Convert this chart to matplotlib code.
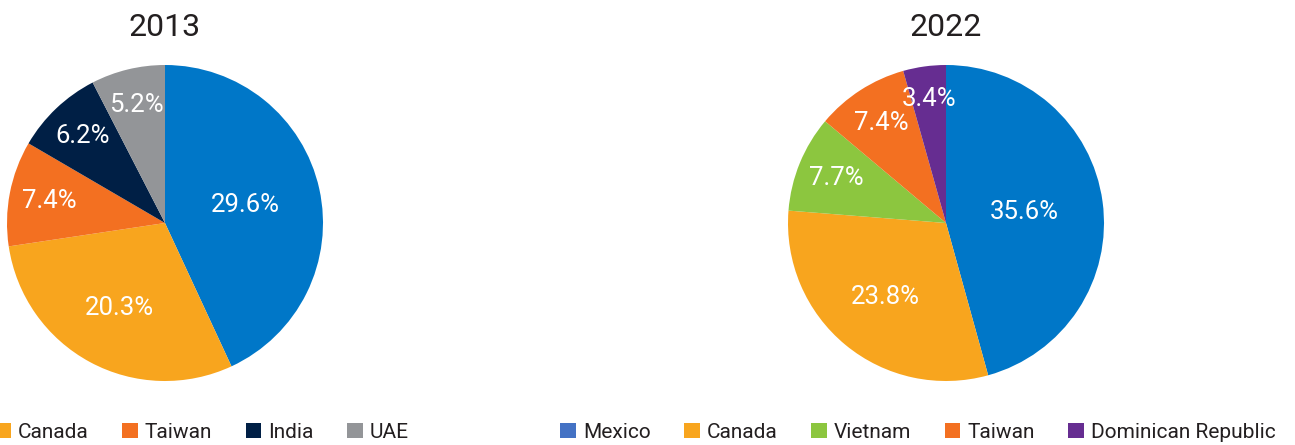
import numpy as np
import matplotlib.pyplot as plt
from matplotlib.patches import Patch

plt.rcParams['font.family'] = ['Roboto', 'DejaVu Sans']

labels_2013 = ['Mexico', 'Canada', 'Taiwan', 'India', 'UAE']
values_2013 = [29.6, 20.3, 7.4, 6.2, 5.2]
colors_2013 = ['#0077C8', '#F8A51E', '#F37021', '#001F45', '#939598']

labels_2022 = ['Mexico', 'Canada', 'Vietnam', 'Taiwan', 'Dominican Republic']
values_2022 = [35.6, 23.8, 7.7, 7.4, 3.4]
colors_2022 = ['#0077C8', '#F8A51E', '#8CC63F', '#F37021', '#662D91']

legend_blue = '#4472C4'

W, H = 1295, 445
fig = plt.figure(figsize=(W / 100, H / 100), dpi=100)


def draw_pie(cx, year, values, labels, colors, legend_cx):
    r = 158
    ax = fig.add_axes([(cx - r) / W, (H - 223 - r) / H, 2 * r / W, 2 * r / H])
    ax.pie(values, colors=colors, startangle=90, counterclock=False,
           wedgeprops=dict(linewidth=0))
    total = sum(values)
    ang = 90
    for v in values:
        frac = v / total
        mid = np.deg2rad(ang - 180 * frac)
        # small slices get their label pushed further out
        d = 0.82 - 0.7 * frac
        ax.text(d * np.cos(mid), d * np.sin(mid), f'{v:.1f}%', ha='center', va='center',
                color='white', fontsize=18.5)
        ang -= 360 * frac
    ax.set_xlim(-1, 1)
    ax.set_ylim(-1, 1)
    ax.set_aspect('equal')
    fig.text(cx / W, 1 - 27 / H, year, ha='center', va='center', fontsize=23,
             color='#231F20')
    handle_colors = [legend_blue] + colors[1:]
    handles = [Patch(facecolor=c, edgecolor='none') for c in handle_colors]
    fig.legend(handles, labels, loc='center', bbox_to_anchor=(legend_cx / W, 1 - 432 / H),
               ncol=5, frameon=False, fontsize=15, handlelength=0.75, handleheight=0.75,
               handletextpad=0.35, columnspacing=1.6, labelcolor='#231F20')


draw_pie(165, '2013', values_2013, labels_2013, colors_2013, 140)
draw_pie(946, '2022', values_2022, labels_2022, colors_2022, 918)

fig.savefig('out.png', dpi=100)
